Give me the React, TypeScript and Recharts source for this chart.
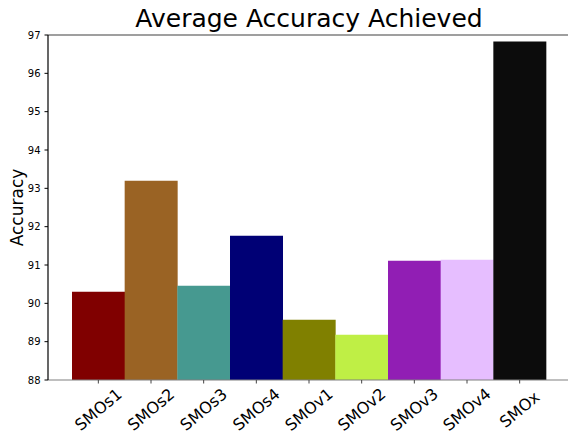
import React from 'react';
import { BarChart, Bar, XAxis, YAxis, Cell, ReferenceLine } from 'recharts';

const models = ['SMOs1', 'SMOs2', 'SMOs3', 'SMOs4', 'SMOv1', 'SMOv2', 'SMOv3', 'SMOv4', 'SMOx'];
const accuracy = [90.3, 93.2, 90.46, 91.76, 89.57, 89.18, 91.11, 91.14, 96.83];
const barColors = [
  '#800000',
  '#9a6324',
  '#469990',
  '#000075',
  '#808000',
  '#bfef45',
  '#911eb4',
  '#e6beff',
  '#0c0c0c',
];
const yTicks = [88, 89, 90, 91, 92, 93, 94, 95, 96, 97];

const data = models.map((name, i) => ({ name, accuracy: accuracy[i] }));

const FONT = '"DejaVu Sans", sans-serif';

// rotated x labels, centred under the tick like matplotlib's ha='center'
function RotatedTick({ x, y, payload }: { x?: number; y?: number; payload?: { value: string } }) {
  return (
    <g transform={`translate(${x},${(y ?? 0) + 24})`}>
      <text
        transform="rotate(-40)"
        textAnchor="middle"
        dominantBaseline="central"
        fontSize={16}
        fontFamily={FONT}
        fill="#000"
      >
        {payload?.value}
      </text>
    </g>
  );
}

export default function App() {
  return (
    <div style={{ position: 'absolute', left: 0, top: 0, width: 568, height: 435, background: '#fff' }}>
      <div
        style={{
          position: 'absolute',
          left: 48,
          width: 522,
          top: 4,
          textAlign: 'center',
          fontFamily: FONT,
          fontSize: 25,
          lineHeight: '30px',
          color: '#000',
        }}
      >
        Average Accuracy Achieved
      </div>
      <BarChart
        width={568}
        height={435}
        data={data}
        margin={{ top: 35, right: 0, bottom: 0, left: 0 }}
        barCategoryGap={0}
        barGap={0}
      >
        <XAxis
          dataKey="name"
          type="category"
          padding={{ left: 24, right: 22 }}
          axisLine={{ stroke: '#808080', strokeWidth: 1.2 }}
          tickLine={{ stroke: '#444' }}
          tickSize={3.5}
          tick={<RotatedTick />}
          interval={0}
          height={55}
        />
        <YAxis
          type="number"
          domain={[88, 97]}
          ticks={yTicks}
          width={48}
          allowDataOverflow
          axisLine={{ stroke: '#000', strokeWidth: 1.2 }}
          tickLine={{ stroke: '#000' }}
          tickSize={3.5}
          tickMargin={4}
          tick={{ fontSize: 10, fontFamily: FONT, fill: '#000' }}
          label={{
            value: 'Accuracy',
            angle: -90,
            position: 'insideLeft',
            dx: 12,
            style: { fontSize: 17, fontFamily: FONT, fill: '#000', textAnchor: 'middle' },
          }}
        />
        <ReferenceLine y={97} stroke="#404040" strokeWidth={1.2} />
        <Bar dataKey="accuracy" isAnimationActive={false}>
          {data.map((d, i) => (
            <Cell key={d.name} fill={barColors[i]} />
          ))}
        </Bar>
      </BarChart>
    </div>
  );
}
